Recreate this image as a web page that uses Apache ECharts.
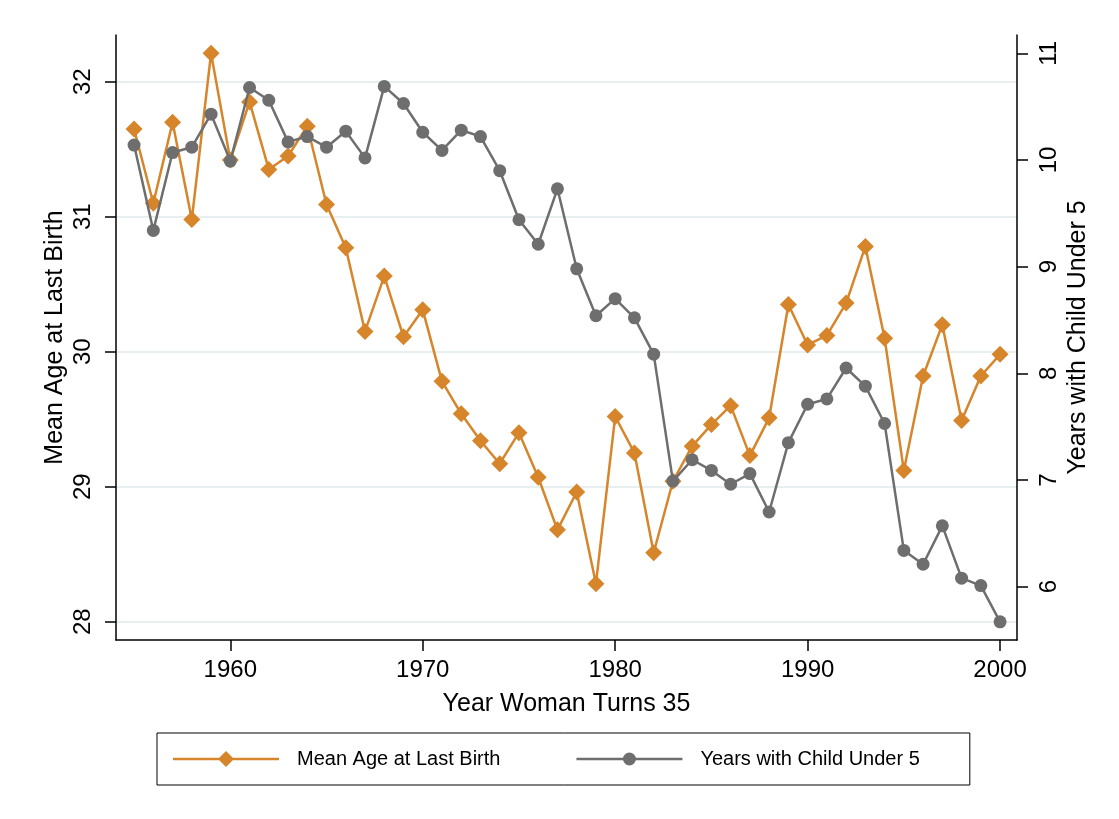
<!DOCTYPE html>
<html>
<head>
<meta charset="utf-8">
<script src="https://cdn.jsdelivr.net/npm/echarts@6/dist/echarts.min.js"></script>
<style>
html,body{margin:0;padding:0;background:#fff;}
#chart{width:1119px;height:819px;}
</style>
</head>
<body>
<div id="chart"></div>
<script>
const years = [1955,1956,1957,1958,1959,1960,1961,1962,1963,1964,1965,1966,1967,1968,1969,1970,1971,1972,1973,1974,1975,1976,1977,1978,1979,1980,1981,1982,1983,1984,1985,1986,1987,1988,1989,1990,1991,1992,1993,1994,1995,1996,1997,1998,1999,2000];
const meanAgeLastBirth = [31.65,31.10,31.70,30.98,32.21,31.42,31.85,31.35,31.45,31.67,
  31.09,30.77,30.15,30.56,30.11,30.31,29.78,29.54,29.34,29.17,
  29.40,29.07,28.68,28.96,28.28,29.52,29.25,28.51,29.04,29.30,
  29.46,29.60,29.23,29.51,30.35,30.05,30.12,30.36,30.78,30.10,
  29.12,29.82,30.20,29.49,29.82,29.98];
const yearsChildUnder5 = [10.14,9.34,10.07,10.12,10.43,9.99,10.68,10.56,10.17,10.22,
  10.12,10.27,10.02,10.69,10.53,10.26,10.09,10.28,10.22,9.90,
  9.44,9.21,9.73,8.98,8.54,8.70,8.52,8.18,6.99,7.19,
  7.09,6.96,7.06,6.70,7.35,7.71,7.76,8.05,7.88,7.53,
  6.34,6.21,6.57,6.08,6.01,5.67];
const xTicks = [1960,1970,1980,1990,2000];
const leftTicks = [28,29,30,31,32];
const rightTicks = [6,7,8,9,10,11];
const seriesNames = ['Mean Age at Last Birth','Years with Child Under 5'];

const FONT = 'Liberation Sans, Arial, Helvetica, sans-serif';
const ORANGE = '#d6852b';
const GRAY = '#6e6e6e';
// legend icons: line segment with marker in the middle
const ICON_DIAMOND = 'path://M0,6.8 L106,6.8 L106,9.2 L0,9.2 Z M53,0 L61,8 L53,16 L45,8 Z';
const ICON_CIRCLE = 'path://M0,6.8 L106,6.8 L106,9.2 L0,9.2 Z M59.5,8 A6.5,6.5 0 1,1 46.5,8 A6.5,6.5 0 1,1 59.5,8 Z';

const chart = echarts.init(document.getElementById('chart'), null, {renderer:'canvas'});
const axisLineStyle = {color:'#000', width:1.5};
chart.setOption({
  backgroundColor:'#fff',
  animation:false,
  grid:{left:116,right:102,top:35,bottom:179,containLabel:false},
  legend:{
    left:157, top:733,
    orient:'horizontal',
    data:[{name:seriesNames[0],icon:ICON_DIAMOND},{name:seriesNames[1],icon:ICON_CIRCLE}],
    borderColor:'#000', borderWidth:1,
    padding:[16,50,16,16],
    itemGap:76,
    itemWidth:106, itemHeight:16,
    symbolKeepAspect:true,
    textStyle:{fontFamily:FONT,fontSize:20,color:'#000',padding:[0,0,0,13]}
  },
  xAxis:{
    type:'value', min:1954.06, max:2000.88,
    name:'Year Woman Turns 35', nameLocation:'middle', nameGap:52,
    nameMoveOverlap:false,
    nameTextStyle:{fontFamily:FONT,fontSize:25,color:'#000'},
    axisLine:{show:true,lineStyle:axisLineStyle,onZero:false},
    axisTick:{show:true,length:11,lineStyle:{color:'#000',width:1.5},customValues:xTicks},
    axisLabel:{fontFamily:FONT,fontSize:24,color:'#000',margin:18,customValues:xTicks,
      formatter:v=>String(Math.round(v))},
    splitLine:{show:false}
  },
  yAxis:[{
    type:'value', position:'left', min:27.864, max:32.346,
    name:'Mean Age at Last Birth', nameLocation:'middle', nameGap:48, nameRotate:90,
    nameMoveOverlap:false,
    nameTextStyle:{fontFamily:FONT,fontSize:25,color:'#000'},
    axisLine:{show:true,lineStyle:axisLineStyle,onZero:false},
    axisTick:{show:true,length:11,lineStyle:{color:'#000',width:1.5},customValues:leftTicks},
    axisLabel:{fontFamily:FONT,fontSize:24,color:'#000',rotate:90,margin:21,customValues:leftTicks},
    splitLine:{show:true,lineStyle:{color:'#e8eff1',width:2}}
  },{
    type:'value', position:'right', min:5.5, max:11.172,
    name:'Years with Child Under 5', nameLocation:'middle', nameGap:49, nameRotate:90,
    nameMoveOverlap:false,
    nameTextStyle:{fontFamily:FONT,fontSize:25,color:'#000'},
    axisLine:{show:true,lineStyle:axisLineStyle,onZero:false},
    axisTick:{show:true,length:11,lineStyle:{color:'#000',width:1.5},customValues:rightTicks},
    axisLabel:{fontFamily:FONT,fontSize:24,color:'#000',rotate:90,margin:20,customValues:rightTicks},
    splitLine:{show:false}
  }],
  series:[{
    name:seriesNames[0], type:'line', yAxisIndex:0,
    data:years.map((y,i)=>[y,meanAgeLastBirth[i]]),
    symbol:'diamond', symbolSize:17, showAllSymbol:true,
    lineStyle:{color:ORANGE,width:2.5},
    itemStyle:{color:ORANGE,borderWidth:0},
    z:2
  },{
    name:seriesNames[1], type:'line', yAxisIndex:1,
    data:years.map((y,i)=>[y,yearsChildUnder5[i]]),
    symbol:'circle', symbolSize:13, showAllSymbol:true,
    lineStyle:{color:GRAY,width:2.5},
    itemStyle:{color:GRAY,borderWidth:0},
    z:3
  }]
});
</script>
</body>
</html>
